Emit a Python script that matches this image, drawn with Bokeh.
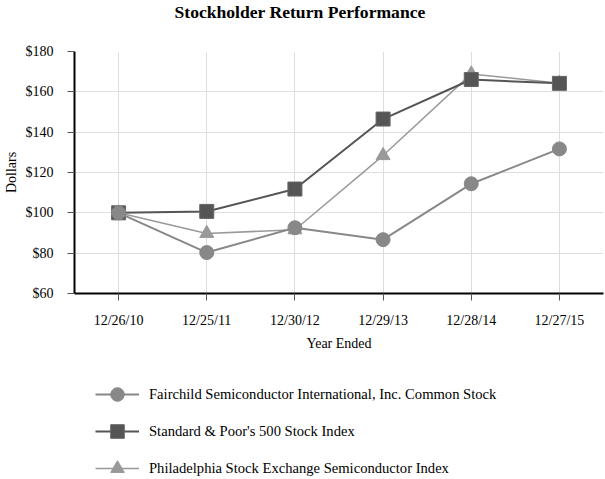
from bokeh.plotting import figure
from bokeh.layouts import column
from bokeh.models import FixedTicker, NumeralTickFormatter, Legend, LegendItem, Range1d, Title
from bokeh.embed import file_html
from bokeh.resources import INLINE

years = ["12/26/10", "12/25/11", "12/30/12", "12/29/13", "12/28/14", "12/27/15"]
fairchild = [100, 80.3, 92.6, 86.7, 114.4, 131.7]
sp500 = [100, 100.7, 111.8, 146.5, 166.1, 164.2]
sox = [100, 89.8, 91.6, 128.4, 168.9, 164.2]
series_names = [
    "Fairchild Semiconductor International, Inc. Common Stock",
    "Standard & Poor's 500 Stock Index",
    "Philadelphia Stock Exchange Semiconductor Index",
]
y_ticks = [60, 80, 100, 120, 140, 160, 180]

FONT = "Liberation Serif"
x = list(range(len(years)))

c_sox, c_sp, c_fc = "#999999", "#555555", "#888888"
styles = [
    dict(marker="circle", color=c_fc, line_width=2, edge=c_fc),
    dict(marker="square", color=c_sp, line_width=2, edge="#666666"),
    dict(marker="triangle", color=c_sox, line_width=1.5, edge=c_sox),
]
data = [fairchild, sp500, sox]

p = figure(width=605, height=360, output_backend="svg", toolbar_location=None, title=None,
           x_range=Range1d(-0.5, 5.5), y_range=Range1d(60, 180),
           min_border_left=74, min_border_right=2, min_border_top=0, min_border_bottom=67)
p.outline_line_color = None
p.background_fill_color = "white"

# spacer title next to the frame, then the real title above it
p.add_layout(Title(text=" ", text_font_size="1px", standoff=24), "above")
p.add_layout(Title(text="Stockholder Return Performance", align="left", offset=100,
                   vertical_align="top", standoff=2,
                   text_font=FONT, text_font_size="17.6px", text_font_style="bold",
                   text_color="black"), "above")

# grid
p.xgrid.grid_line_color = "#dedede"
p.ygrid.grid_line_color = "#dedede"
p.xgrid.ticker = FixedTicker(ticks=x)
p.ygrid.ticker = FixedTicker(ticks=y_ticks)

# axes
p.xaxis.ticker = FixedTicker(ticks=x)
p.xaxis.major_label_overrides = {i: t for i, t in enumerate(years)}
p.yaxis.ticker = FixedTicker(ticks=y_ticks)
p.yaxis.formatter = NumeralTickFormatter(format="$0")
for ax in (p.xaxis, p.yaxis):
    ax.axis_line_color = "black"
    ax.axis_line_width = 2
    ax.major_tick_in = 0
    ax.major_tick_out = 7
    ax.major_tick_line_color = "#555555"
    ax.minor_tick_line_color = None
    ax.major_label_text_font = FONT
    ax.major_label_text_font_size = "14px"
    ax.major_label_text_color = "black"
    ax.axis_label_text_font = FONT
    ax.axis_label_text_font_size = "14px"
    ax.axis_label_text_font_style = "normal"
    ax.axis_label_text_color = "black"
p.xaxis.axis_label = "Year Ended"
p.yaxis.axis_label = "Dollars"
p.xaxis.major_label_standoff = 12
p.xaxis.axis_label_standoff = 5
p.yaxis.major_label_standoff = 14
p.yaxis.axis_label_standoff = 4

# series (drawn bottom to top: SOX, S&P, Fairchild)
for vals, st in reversed(list(zip(data, styles))):
    p.line(x, vals, line_color=st["color"], line_width=st["line_width"])
    p.scatter(x, vals, marker=st["marker"], size=14, fill_color=st["color"], line_color=st["edge"])

# legend strip below the chart (its renderers use the series data, which lies outside this strip's view)
lf = figure(width=605, height=119, output_backend="svg", toolbar_location=None,
            x_range=Range1d(-0.5, 5.5), y_range=Range1d(0, 1),
            x_axis_location=None, y_axis_location=None,
            min_border_left=74, min_border_right=2, min_border_top=0, min_border_bottom=0)
lf.grid.visible = False
lf.outline_line_color = None
items = []
for name, vals, st in zip(series_names, data, styles):
    r1 = lf.line(x, vals, line_color=st["color"], line_width=st["line_width"])
    r2 = lf.scatter(x, vals, marker=st["marker"], size=14, fill_color=st["color"], line_color=st["edge"])
    items.append(LegendItem(label=name, renderers=[r1, r2]))

legend = Legend(items=items, location=(21, -6), orientation="vertical")
legend.label_text_font = FONT
legend.label_text_font_size = "14.6px"
legend.label_text_color = "black"
legend.border_line_color = None
legend.background_fill_alpha = 0
legend.glyph_width = 44
legend.glyph_height = 34
legend.label_standoff = 10
legend.spacing = 3
legend.padding = 0
legend.margin = 0
legend.label_height = 20
lf.add_layout(legend, "center")

layout = column(p, lf, spacing=0)
open("out.html", "w").write(file_html(layout, INLINE))
